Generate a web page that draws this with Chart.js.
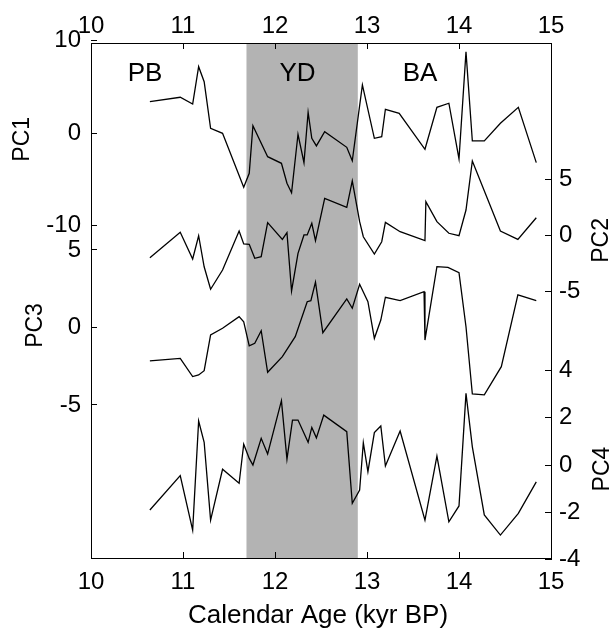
<!DOCTYPE html>
<html>
<head>
<meta charset="utf-8">
<script src="https://cdn.jsdelivr.net/npm/chart.js@4/dist/chart.umd.min.js"></script>
<style>
  html, body { margin: 0; padding: 0; background: #fff; }
  canvas { display: block; }
</style>
</head>
<body>
<canvas id="pcChart" width="616" height="628"></canvas>
<script>
/* Stacked PC1–PC4 records vs calendar age, Younger Dryas shaded */

const ageTicks = [10, 11, 12, 13, 14, 15];

const pc1Age = [10.64, 10.97, 11.105, 11.17, 11.23, 11.30, 11.43, 11.66, 11.72, 11.76,
                11.92, 12.07, 12.13, 12.18, 12.25, 12.315, 12.36, 12.40, 12.45, 12.54,
                12.78, 12.84, 12.95, 13.08, 13.16, 13.20, 13.35, 13.63, 13.76, 13.89,
                14.0, 14.076, 14.145, 14.275, 14.45, 14.645, 14.84];
const pc1 = [3.42, 3.90, 3.17, 7.21, 5.58, 0.54, 0.0, -5.84, -4.33, 0.82,
             -2.53, -3.25, -5.41, -6.43, -0.11, -3.18, 2.27, -0.54, -1.37, 0.17,
             -1.52, -2.97, 5.23, -0.54, -0.37, 2.60, 2.16, -1.73, 2.81, 3.25,
             -2.78, 8.83, -0.83, -0.83, 1.08, 2.81, -3.18];

const pc2Age = [10.64, 10.97, 11.105, 11.17, 11.23, 11.30, 11.43, 11.61, 11.66, 11.72,
                11.78, 11.85, 11.92, 12.08, 12.13, 12.18, 12.25, 12.315, 12.35, 12.40,
                12.44, 12.54, 12.78, 12.84, 12.92, 12.96, 13.08, 13.16, 13.20, 13.36,
                13.63, 13.64, 13.76, 13.89, 14.0, 14.076, 14.145, 14.45, 14.64, 14.84];
const pc2 = [-1.98, 0.28, -2.09, -0.03, -2.78, -4.78, -3.07, 0.39, -0.76, -0.79,
             -2.03, -1.89, 1.13, -0.35, 0.24, -4.93, -1.59, 0.04, 0.04, 1.07,
             -0.47, 3.29, 2.49, 4.83, 1.22, -0.12, -1.65, -0.56, 1.16, 0.33,
             -0.47, 2.99, 1.22, 0.19, -0.03, 2.25, 6.60, 0.39, -0.35, 1.57];

const pc3Age = [10.64, 10.97, 11.105, 11.17, 11.23, 11.30, 11.43, 11.61, 11.66, 11.72,
                11.78, 11.85, 11.92, 12.08, 12.22, 12.35, 12.39, 12.44, 12.52, 12.78,
                12.84, 12.92, 13.01, 13.08, 13.15, 13.20, 13.36, 13.62, 13.63, 13.76,
                13.88, 14.0, 14.076, 14.145, 14.275, 14.46, 14.64, 14.84];
const pc3 = [-2.16, -1.99, -3.17, -3.06, -2.79, -0.48, -0.05, 0.70, 0.37, -1.19,
             -1.02, -0.21, -2.89, -1.88, -0.59, 1.66, 1.73, 2.92, -0.34, 1.84,
             1.24, 2.79, 1.66, -0.70, 0.48, 1.95, 1.73, 2.31, -0.81, 3.92,
             3.88, 3.54, 0.05, -4.29, -4.35, -2.53, 2.10, 1.73];

const pc4Age = [10.64, 10.97, 11.105, 11.17, 11.23, 11.30, 11.43, 11.61, 11.66, 11.72,
                11.76, 11.85, 11.92, 12.07, 12.13, 12.19, 12.25, 12.36, 12.40, 12.45,
                12.53, 12.78, 12.84, 12.92, 12.96, 13.01, 13.08, 13.15, 13.20, 13.36,
                13.63, 13.76, 13.89, 14.0, 14.076, 14.145, 14.275, 14.45, 14.645, 14.84];
const pc4 = [-1.90, -0.45, -2.75, 1.86, 0.96, -2.33, -0.18, -0.77, 0.88, 0.28,
             0.0, 1.13, 0.47, 2.72, 0.25, 1.90, 1.90, 0.96, 1.59, 1.15,
             2.11, 1.41, -1.62, -1.06, 0.94, -0.28, 1.37, 1.65, -0.04, 1.44,
             -2.33, 0.38, -2.40, -1.73, 3.03, 0.77, -2.11, -2.96, -2.04, -0.71];

const pc1Ticks = [10, 0, -10];
const pc2Ticks = [5, 0, -5];
const pc3Ticks = [5, 0, -5];
const pc4Ticks = [4, 2, 0, -2, -4];

const periodNames = ['PB', 'YD', 'BA'];
const periodAges  = [10.587, 12.245, 13.576];   /* label centres, kyr BP */
const PERIOD_LEVEL = 6.47;                       /* label height in PC1 units */

const YD_START = 11.69;
const YD_END   = 12.9;

const FONT = '"Liberation Sans", Arial, Helvetica, sans-serif';

const toXY = (ages, vals) => ages.map((a, i) => ({ x: a, y: vals[i] }));
const fixTicks = (list) => (scale) => { scale.ticks = list.map(v => ({ value: v })); };
const noWidth  = (scale) => { scale.width = 0; };
const noHeight = (scale) => { scale.height = 0; };

/* shared axis look: inward ticks, no grid, black frame */
function axis(position, min, max, ticks, pad) {
  const horizontal = position === 'top' || position === 'bottom';
  return {
    type: 'linear',
    position,
    min, max,
    afterBuildTicks: fixTicks(ticks),
    afterFit: horizontal ? noHeight : noWidth,  /* all axes sit on the frame */
    grid: {
      display: true,
      drawOnChartArea: false,
      drawTicks: true,
      tickLength: -6,
      color: '#000',
      lineWidth: 1,
    },
    border: { display: true, color: '#000', width: 1 },
    ticks: {
      color: '#000',
      font: { family: FONT, size: 24 },
      padding: pad,
      autoSkip: false,
      maxRotation: 0,
    },
  };
}

function line(data, axisId) {
  return {
    data,
    yAxisID: axisId,
    xAxisID: 'x',
    borderColor: '#000',
    borderWidth: 1.3,
    pointRadius: 0,
    tension: 0,
    fill: false,
  };
}

const axisTitles = [
  { scale: 'y1', text: 'PC1', x: 23,  dy: 6 },
  { scale: 'y3', text: 'PC3', x: 36,  dy: -2 },
  { scale: 'y2', text: 'PC2', x: 602, dy: 5 },
  { scale: 'y4', text: 'PC4', x: 603, dy: 4 },
];

const decorPlugin = {
  id: 'decor',
  afterLayout(chart) {
    /* zero-size axes: widen their boxes again so tick labels are not clipped */
    Object.values(chart.scales).forEach(s => {
      const pos = s.options.position;
      if (pos === 'left')   s.left = 0;
      if (pos === 'right')  s.right = chart.width;
      if (pos === 'top')    s.top = 0;
      if (pos === 'bottom') s.bottom = chart.height;
    });
  },
  beforeDraw(chart) {
    const { ctx, chartArea: area, scales } = chart;
    const x0 = scales.x.getPixelForValue(YD_START);
    const x1 = scales.x.getPixelForValue(YD_END);
    ctx.save();
    ctx.fillStyle = '#b3b3b3';
    ctx.fillRect(x0, area.top, x1 - x0, area.bottom - area.top);
    ctx.restore();
  },
  afterDraw(chart) {
    const { ctx, chartArea: area, scales } = chart;
    ctx.save();
    ctx.fillStyle = '#000';
    ctx.textAlign = 'center';
    ctx.textBaseline = 'middle';

    ctx.font = '26px ' + FONT;
    periodNames.forEach((name, i) => {
      ctx.fillText(name, scales.x.getPixelForValue(periodAges[i]),
                   scales.y1.getPixelForValue(PERIOD_LEVEL));
    });

    ctx.font = '23px ' + FONT;
    axisTitles.forEach(t => {
      ctx.save();
      ctx.translate(t.x, scales[t.scale].getPixelForValue(0) + t.dy);
      ctx.rotate(-Math.PI / 2);
      ctx.fillText(t.text, 0, 0);
      ctx.restore();
    });

    ctx.font = '26px ' + FONT;
    ctx.fillText('Calendar Age (kyr BP)', (area.left + area.right) / 2 - 3, area.bottom + 58);
    ctx.restore();
  },
};

new Chart(document.getElementById('pcChart'), {
  type: 'line',
  data: {
    datasets: [
      line(toXY(pc1Age, pc1), 'y1'),
      line(toXY(pc2Age, pc2), 'y2'),
      line(toXY(pc3Age, pc3), 'y3'),
      line(toXY(pc4Age, pc4), 'y4'),
    ],
  },
  options: {
    responsive: false,
    animation: false,
    layout: { padding: { left: 91, right: 65, top: 43, bottom: 70 } },
    plugins: {
      legend: { display: false },
      tooltip: { enabled: false },
    },
    scales: {
      x:  axis('bottom', 10, 15, ageTicks, 16),
      x2: axis('top',    10, 15, ageTicks, 8),
      y1: axis('left',  -45.96, 9.77,  pc1Ticks, 16),
      y3: axis('left',  -14.87, 18.35, pc3Ticks, 16),
      y2: axis('right', -28.62, 17.07, pc2Ticks, 14),
      y4: axis('right', -3.93,  17.84, pc4Ticks, 14),
    },
  },
  plugins: [decorPlugin],
});
</script>
</body>
</html>
